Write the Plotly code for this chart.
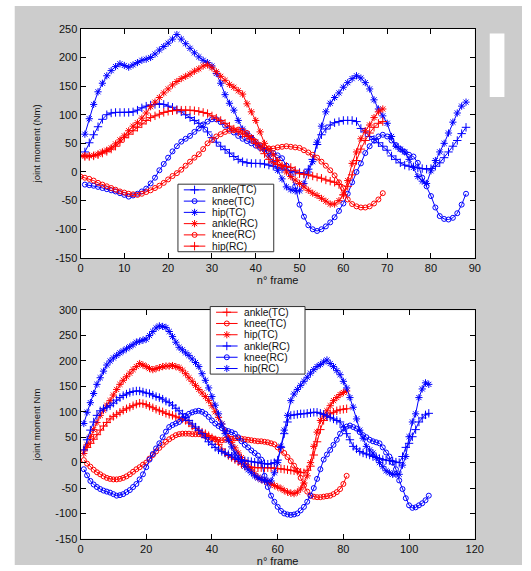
import plotly.graph_objects as go

W, H = 531, 571

# ---------------- data : upper chart ----------------
top_tc_start = 1
top_rc_start = 0
top_ankle_tc = [35, 51, 65, 79, 92, 100, 103, 104, 104, 104, 104, 105, 108, 112, 115, 117, 118, 119, 118, 115,
                113, 109, 105, 100, 95, 90, 85, 78, 70, 60, 52, 45, 39, 33, 27, 22, 18, 16, 15, 15,
                15, 14, 12, 10, 7, 5, 3, 2, 0, -1, -3, 5, 22, 48, 65, 75, 82, 86, 88, 90,
                90, 90, 88, 76, 70, 62, 57, 51, 45, 38, 28, 22, 16, 12, 10, 9, 7, 6, 5, 6,
                10, 16, 25, 35, 45, 55, 67, 78]
top_knee_tc = [-22, -23, -24, -26, -28, -30, -32, -34, -37, -40, -43, -41, -38, -34, -29, -20, -10, 3, 14, 25,
               36, 45, 53, 58, 63, 70, 76, 83, 88, 92, 92, 87, 81, 75, 69, 63, 58, 54, 50, 46,
               42, 39, 36, 33, 29, 24, 11, -5, -25, -57, -78, -93, -100, -103, -100, -95, -88, -79, -68, -55,
               -38, -18, 0, 15, 33, 45, 55, 62, 65, 62, 55, 47, 40, 35, 30, 27, 16, -10, -25, -42,
               -62, -77, -82, -83, -80, -72, -57, -38]
top_hip_tc = [66, 93, 118, 140, 155, 168, 177, 184, 189, 186, 183, 187, 191, 195, 197, 200, 206, 213, 219, 225,
              232, 240, 232, 224, 216, 208, 201, 195, 191, 185, 172, 155, 135, 120, 108, 90, 75, 67, 60, 52,
              45, 39, 28, 18, 3, -12, -26, -31, -33, -33, -20, 0, 18, 52, 80, 105, 120, 130, 138, 148,
              156, 163, 168, 164, 156, 145, 126, 110, 98, 85, 62, 45, 40, 35, 22, 8, -8, -16, -20, 2,
              20, 35, 50, 68, 87, 103, 115, 122]
top_ankle_rc = [28, 28, 28, 29, 31, 35, 38, 42, 49, 56, 63, 72, 80, 86, 94, 103, 114, 122, 130, 138,
                145, 152, 158, 163, 167, 171, 176, 180, 185, 187, 182, 175, 167, 160, 153, 148, 142, 136, 119, 105,
                90, 70, 50, 40, 30, 20, 10, 0, -8, -14, -20, -26, -32, -37, -41, -46, -51, -56, -56, -50,
                -40, -15, 15, 35, 58, 72, 82, 95, 105, 110]
top_knee_rc = [-8, -10, -12, -15, -19, -22, -25, -28, -31, -34, -36, -38, -39, -40, -38, -35, -32, -28, -24, -19,
               -13, -7, -2, 4, 11, 18, 25, 31, 40, 50, 56, 62, 66, 70, 72, 73, 74, 72, 68, 60,
               53, 47, 43, 41, 41, 43, 44, 45, 44, 43, 42, 38, 34, 30, 25, 18, 11, 3, -6, -18,
               -28, -48, -56, -60, -62, -62, -60, -55, -48, -37]
top_hip_rc = [28, 27, 27, 28, 30, 33, 36, 40, 45, 52, 60, 66, 72, 78, 84, 90, 95, 98, 101, 104,
              106, 107, 108, 108, 108, 108, 107, 106, 104, 102, 98, 94, 90, 85, 80, 75, 70, 66, 62, 58,
              50, 42, 32, 22, 16, 13, 11, 10, 8, 3, -3, -4, -5, -7, -9, -11, -14, -16, -18, -22,
              -40, -25, -5, 20, 40, 55, 68, 78, 85, 88]

# ---------------- data : lower chart ----------------
bot_tc_start = 1
bot_rc_start = 1
bot_ankle_tc = [25, 30, 38, 46, 55, 64, 72, 79, 86, 91, 95, 99, 103, 106, 109, 112, 115, 117, 116, 114,
                111, 108, 105, 102, 100, 97, 95, 93, 90, 88, 86, 83, 78, 72, 67, 63, 60, 57, 53, 49,
                45, 36, 27, 19, 14, 10, 6, 2, -3, -7, -8, -9, -10, -10, -10, -10, -10, -10, -11, -12,
                -12, -13, -14, -15, -16, -17, -19, -20, -15, -7, 15, 41, 65, 83, 90, 96, 99, 102, 104, 105,
                106]
bot_knee_tc = [5, -2, -8, -14, -19, -23, -27, -30, -32, -33, -33, -32, -30, -27, -23, -18, -13, -9, -4, 0,
               8, 15, 22, 29, 35, 41, 46, 50, 54, 56, 57, 57, 57, 56, 56, 56, 55, 52, 50, 48,
               46, 45, 44, 45, 46, 47, 48, 48, 47, 46, 45, 44, 43, 42, 42, 41, 40, 38, 36, 30,
               24, 19, 11, 3, -6, -16, -30, -45, -57, -65, -67, -68, -68, -67, -66, -65, -62, -58, -52, -42,
               -26]
bot_hip_tc = [18, 35, 51, 65, 79, 93, 103, 113, 122, 133, 144, 154, 162, 169, 176, 183, 189, 195, 192, 189,
              185, 183, 185, 187, 189, 190, 190, 191, 189, 187, 182, 175, 167, 160, 152, 144, 137, 130, 122, 112,
              100, 89, 76, 63, 51, 40, 29, 19, 10, 2, -7, -14, -22, -29, -33, -36, -39, -42, -45, -48,
              -51, -55, -58, -60, -61, -58, -52, -40, -26, 0, 32, 60, 83, 94, 102, 112, 122, 128, 134, 138,
              141]
bot_ankle_rc = [25, 45, 64, 80, 93, 102, 106, 109, 112, 117, 123, 128, 132, 135, 138, 140, 141, 141, 139, 137,
                136, 133, 130, 128, 125, 121, 118, 113, 107, 102, 96, 89, 83, 76, 70, 64, 57, 49, 41, 36,
                30, 25, 22, 19, 16, 13, 9, 6, 5, 4, 3, 2, 1, 0, -1, -2, -3, -2, 0, 5,
                30, 57, 80, 93, 94, 95, 96, 96, 97, 98, 99, 99, 97, 95, 92, 89, 86, 83, 80, 70,
                57, 45, 32, 27, 22, 19, 17, 15, 12, 10, 8, 6, 5, 4, 3, 1, 0, 12, 30, 38,
                51, 65, 80, 88, 94, 97]
bot_knee_rc = [-13, -25, -36, -43, -48, -52, -55, -57, -59, -62, -65, -64, -62, -58, -54, -48, -42, -33, -23, -9,
               6, 17, 28, 38, 50, 61, 70, 74, 77, 80, 86, 92, 96, 99, 101, 102, 100, 96, 90, 83,
               77, 72, 68, 64, 62, 60, 57, 50, 42, 35, 30, 24, 19, 14, 6, -26, -48, -65, -77, -87,
               -95, -100, -102, -103, -102, -100, -94, -87, -77, -65, -50, -32, -13, 6, 16, 25, 35, 45, 57, 67,
               71, 73, 70, 67, 60, 54, 50, 45, 42, 40, 38, 30, 20, 12, 0, -13, -35, -52, -70, -84,
               -89, -88, -84, -80, -74, -65]
bot_hip_rc = [77, 99, 118, 136, 154, 167, 180, 192, 200, 206, 211, 216, 220, 224, 228, 232, 237, 239, 241, 243,
              250, 258, 265, 269, 268, 266, 258, 248, 237, 227, 222, 216, 211, 204, 197, 189, 175, 162, 147, 130,
              113, 96, 76, 57, 44, 31, 19, 11, 2, -7, -14, -20, -26, -30, -33, -36, -36, -36, -20, 0,
              32, 64, 93, 122, 135, 144, 152, 160, 168, 176, 183, 189, 193, 198, 202, 195, 189, 181, 173, 160,
              147, 128, 109, 86, 64, 48, 32, 25, 19, 10, 0, -8, -16, -20, -23, -23, -23, -5, 12, 51,
              80, 96, 128, 145, 157, 154]

# ---------------- axes ticks ----------------
top_xticks = [0, 10, 20, 30, 40, 50, 60, 70, 80, 90]
top_yticks = [-150, -100, -50, 0, 50, 100, 150, 200, 250]
bot_xticks = [0, 20, 40, 60, 80, 100, 120]
bot_yticks = [-150, -100, -50, 0, 50, 100, 150, 200, 250, 300]

top_labels = ["ankle(TC)", "knee(TC)", "hip(TC)", "ankle(RC)", "knee(RC)", "hip(RC)"]
bot_labels = ["ankle(TC)", "knee(TC)", "hip(TC)", "ankle(RC)", "knee(RC)", "hip(RC)"]

BLUE = "#0000ff"
RED = "#ff0000"
SYM = {"+": ("cross-thin", 6), "o": ("circle-open", 5), "*": ("asterisk", 6)}
FONT = "Liberation Sans, Arial, sans-serif"

top_series = [
    (top_ankle_tc, top_tc_start, BLUE, "+"),
    (top_knee_tc, top_tc_start, BLUE, "o"),
    (top_hip_tc, top_tc_start, BLUE, "*"),
    (top_ankle_rc, top_rc_start, RED, "*"),
    (top_knee_rc, top_rc_start, RED, "o"),
    (top_hip_rc, top_rc_start, RED, "+"),
]
bot_series = [
    (bot_ankle_tc, bot_tc_start, RED, "+"),
    (bot_knee_tc, bot_tc_start, RED, "o"),
    (bot_hip_tc, bot_tc_start, RED, "*"),
    (bot_ankle_rc, bot_rc_start, BLUE, "+"),
    (bot_knee_rc, bot_rc_start, BLUE, "o"),
    (bot_hip_rc, bot_rc_start, BLUE, "*"),
]

fig = go.Figure()


def marker(c, s):
    sym, size = SYM[s]
    return dict(symbol=sym, size=size, color=c, line=dict(width=1, color=c))


for labels, series, xa, ya in [(top_labels, top_series, "x", "y"), (bot_labels, bot_series, "x2", "y2")]:
    for name, (vals, start, c, s) in zip(labels, series):
        fig.add_trace(go.Scatter(
            x=list(range(start, start + len(vals))), y=vals, name=name,
            mode="lines+markers", line=dict(color=c, width=1), marker=marker(c, s),
            xaxis=xa, yaxis=ya, showlegend=False))

# ---------------- layout geometry (pixels) ----------------
PL, PR = 79.3, 482.7
TOP_T, TOP_B = 23.3, 257.3
BOT_T, BOT_B = 310.7, 544.3


def px_x(v):
    return v / W


def px_y(v):
    return 1 - v / H


axis_common = dict(showline=True, linecolor="black", linewidth=1, mirror="ticks",
                   ticks="inside", ticklen=5, tickcolor="black", showgrid=False, zeroline=False,
                   tickfont=dict(family=FONT, size=11, color="#111"), fixedrange=True)

fig.update_layout(
    width=W, height=H, autosize=False,
    margin=dict(l=0, r=0, t=0, b=0),
    paper_bgcolor="white", plot_bgcolor="rgba(0,0,0,0)",
    font=dict(family=FONT, color="#111"),
    showlegend=False,
    xaxis=dict(domain=[px_x(PL), px_x(PR)], anchor="y", range=[0, 90],
               tickvals=top_xticks, ticktext=[str(t) for t in top_xticks],
               title=dict(text="n° frame", font=dict(size=11), standoff=0), **axis_common),
    yaxis=dict(domain=[px_y(TOP_B), px_y(TOP_T)], anchor="x", range=[-150, 250],
               tickvals=top_yticks, ticktext=[str(t) for t in top_yticks],
               title=dict(text="joint moment (Nm)", font=dict(size=9.5), standoff=12), **axis_common),
    xaxis2=dict(domain=[px_x(PL), px_x(PR)], anchor="y2", range=[0, 120],
                tickvals=bot_xticks, ticktext=[str(t) for t in bot_xticks],
                title=dict(text="n° frame", font=dict(size=11), standoff=1), **axis_common),
    yaxis2=dict(domain=[px_y(BOT_B), px_y(BOT_T)], anchor="x2", range=[-150, 300],
                tickvals=bot_yticks, ticktext=[str(t) for t in bot_yticks],
                title=dict(text="joint moment Nm", font=dict(size=9.5), standoff=12), **axis_common),
    xaxis3=dict(domain=[0, 1], anchor="y3", range=[0, W], visible=False, fixedrange=True),
    yaxis3=dict(domain=[0, 1], anchor="x3", range=[H, 0], visible=False, fixedrange=True),
)

shapes = [
    dict(type="rect", xref="paper", yref="paper", x0=px_x(12), x1=1, y0=0, y1=1,
         fillcolor="#cccccc", line=dict(width=0), layer="below"),
    dict(type="rect", xref="paper", yref="paper", x0=px_x(PL), x1=px_x(PR), y0=px_y(TOP_B), y1=px_y(TOP_T),
         fillcolor="white", line=dict(width=0), layer="below"),
    dict(type="rect", xref="paper", yref="paper", x0=px_x(PL), x1=px_x(PR), y0=px_y(BOT_B), y1=px_y(BOT_T),
         fillcolor="white", line=dict(width=0), layer="below"),
    dict(type="rect", xref="paper", yref="paper", x0=px_x(498), x1=px_x(513), y0=px_y(93), y1=px_y(28),
         fillcolor="white", line=dict(width=0), layer="below"),
]
annotations = []

# ---------------- legends (drawn in pixel space on overlay axis) ----------------
legends = [
    dict(labels=top_labels, series=top_series, box=(179, 277, 182, 251), row0=187.8, dy=11.5,
         lx0=185, lx1=207, tx=213),
    dict(labels=bot_labels, series=bot_series, box=(212, 309, 307, 376), row0=312.8, dy=11.5,
         lx0=218, lx1=240, tx=246),
]
for lg in legends:
    bx0, bx1, by0, by1 = lg["box"]
    shapes.append(dict(type="rect", xref="x3", yref="y3", x0=bx0, x1=bx1, y0=by0, y1=by1,
                       fillcolor="white", line=dict(color="#333", width=1), layer="below"))
    for i, (name, (vals, start, c, s)) in enumerate(zip(lg["labels"], lg["series"])):
        yy = lg["row0"] + i * lg["dy"]
        shapes.append(dict(type="line", xref="x3", yref="y3", x0=lg["lx0"], x1=lg["lx1"], y0=yy, y1=yy,
                           line=dict(color=c, width=1), layer="below"))
        fig.add_trace(go.Scatter(x=[(lg["lx0"] + lg["lx1"]) / 2], y=[yy], mode="markers",
                                 marker=marker(c, s), xaxis="x3", yaxis="y3", showlegend=False,
                                 hoverinfo="skip"))
        annotations.append(dict(x=lg["tx"], y=yy, xref="x3", yref="y3", text=name, showarrow=False,
                                xanchor="left", yanchor="middle", borderpad=0,
                                font=dict(family=FONT, size=10.2, color="#111")))

fig.update_layout(shapes=shapes, annotations=annotations)
fig.write_html("out.html", config={"displayModeBar": False},
               post_script="document.body.style.margin='0';document.body.style.overflow='hidden';")
